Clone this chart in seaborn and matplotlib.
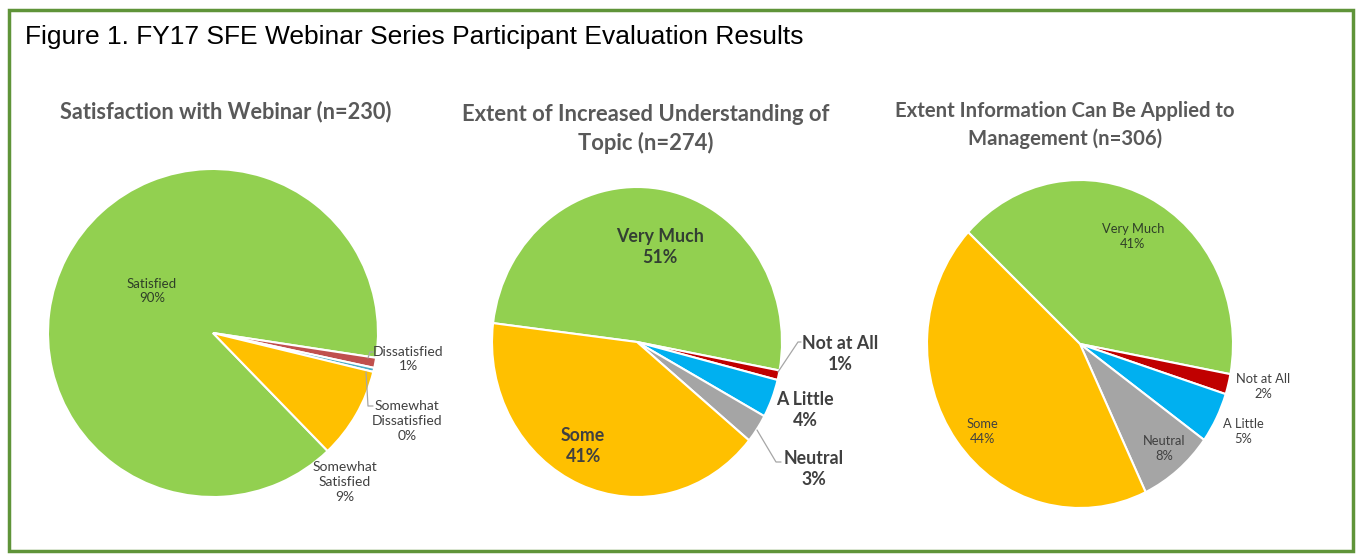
import numpy as np
import matplotlib
matplotlib.use('Agg')
import matplotlib.pyplot as plt
import seaborn as sns
from matplotlib.patches import Rectangle

W, H = 1357, 554

# data
sat_labels = ['Satisfied', 'Dissatisfied', 'Somewhat\nDissatisfied', 'Somewhat\nSatisfied']
sat_pct = [90, 1, 0.4, 9]
und_labels = ['Very Much', 'Not at All', 'A Little', 'Neutral', 'Some']
und_pct = [51, 1, 4, 3, 41]
app_labels = ['Very Much', 'Not at All', 'A Little', 'Neutral', 'Some']
app_pct = [41, 2, 5, 8, 44]
shown_sat = ['90%', '1%', '0%', '9%']
shown_und = ['51%', '1%', '4%', '3%', '41%']
shown_app = ['41%', '2%', '5%', '8%', '44%']

green, orange, red, blue, grey = '#92D050', '#FFC000', '#C00000', '#00B0F0', '#A5A5A5'
sat_cols = [green, '#C0504D', '#4BACC6', orange]
scale_cols = [green, red, blue, grey, orange]

sns.set_theme(style='white')
plt.rcParams['font.family'] = ['Lato', 'DejaVu Sans']
txt = '#404040'

fig = plt.figure(figsize=(W / 100, H / 100), dpi=100)
fig.patch.set_facecolor('white')


def pie_axes(cx, cy, rx, ry):
    ax = fig.add_axes([(cx - rx) / W, 1 - (cy + ry) / H, 2 * rx / W, 2 * ry / H])
    ax.set_xlim(-1, 1)
    ax.set_ylim(-1, 1)
    ax.set_aspect('auto')
    ax.axis('off')
    conv = lambda px, py: ((px - cx) / rx, (cy - py) / ry)
    return ax, conv


def draw(ax, vals, cols, start):
    ax.pie(vals, colors=cols, startangle=start, counterclock=False, radius=1,
           wedgeprops=dict(edgecolor='white', linewidth=1.5))
    ax.set_xlim(-1, 1)
    ax.set_ylim(-1, 1)
    ax.set_aspect('auto')


def label(ax, conv, px, py, s, size, bold=False, color=txt):
    x, y = conv(px, py)
    ax.text(x, y, s, ha='center', va='center', fontsize=size, color=color,
            fontweight='bold' if bold else 'normal', linespacing=1.3)


def leader(ax, conv, pts):
    xy = np.array([conv(*p) for p in pts])
    ax.plot(xy[:, 0], xy[:, 1], color='#a6a6a6', lw=0.9, clip_on=False)


# pie 1
ax1, c1 = pie_axes(213, 333, 165, 164)
draw(ax1, sat_pct, sat_cols, -46)
label(ax1, c1, 152, 291, sat_labels[0] + '\n' + shown_sat[0], 9.5, color='#2f3f28')
label(ax1, c1, 408, 359, sat_labels[1] + '\n' + shown_sat[1], 10)
label(ax1, c1, 407, 421, sat_labels[2] + '\n' + shown_sat[2], 10)
label(ax1, c1, 345, 482, sat_labels[3] + '\n' + shown_sat[3], 10)
leader(ax1, c1, [(368, 358), (370, 352), (373, 352)])
leader(ax1, c1, [(366, 372), (368, 406), (373, 406)])

# pie 2
ax2, c2 = pie_axes(637, 342, 145, 155)
draw(ax2, und_pct, scale_cols, 173)
label(ax2, c2, 660, 247, und_labels[0] + '\n' + shown_und[0], 12.8, True, '#333f33')
label(ax2, c2, 840, 354, und_labels[1] + '\n' + shown_und[1], 12.8, True)
label(ax2, c2, 805, 410, und_labels[2] + '\n' + shown_und[2], 12.8, True)
label(ax2, c2, 814, 469, und_labels[3] + '\n' + shown_und[3], 12.8, True)
label(ax2, c2, 583, 446, und_labels[4] + '\n' + shown_und[4], 12.8, True)
leader(ax2, c2, [(778, 372), (798, 342), (801, 342)])
leader(ax2, c2, [(757, 430), (776, 462), (781, 462)])

# pie 3
ax3, c3 = pie_axes(1080, 344, 153, 164)
draw(ax3, app_pct, scale_cols, 137)
label(ax3, c3, 1133, 236, app_labels[0] + '\n' + shown_app[0], 9.3, color='#2f3f28')
label(ax3, c3, 1263, 386, app_labels[1] + '\n' + shown_app[1], 9.3)
label(ax3, c3, 1243, 431, app_labels[2] + '\n' + shown_app[2], 9.3)
label(ax3, c3, 1164, 448, app_labels[3] + '\n' + shown_app[3], 9.3)
label(ax3, c3, 982, 431, app_labels[4] + '\n' + shown_app[4], 9.3)

# titles
ttl = '#595959'
fig.text(226 / W, 1 - 112 / H, 'Satisfaction with Webinar (n=230)', ha='center', va='center',
         fontsize=15.7, fontweight='bold', color=ttl)
fig.text(646 / W, 1 - 129 / H, 'Extent of Increased Understanding of\nTopic (n=274)', ha='center',
         va='center', fontsize=15.8, fontweight='bold', color=ttl, linespacing=1.4)
fig.text(1065 / W, 1 - 125 / H, 'Extent Information Can Be Applied to\nManagement (n=306)', ha='center',
         va='center', fontsize=14.6, fontweight='bold', color=ttl, linespacing=1.4)
fig.text(25 / W, 1 - 37 / H, 'Figure 1. FY17 SFE Webinar Series Participant Evaluation Results',
         ha='left', va='center', fontsize=19, color='black', family='Liberation Sans')

# green frame
fig.patches.append(Rectangle((9 / W, 1 - 551 / H), 1344 / W, 541 / H, transform=fig.transFigure,
                             fill=False, edgecolor='#5f9439', linewidth=2.5))

fig.savefig('out.png', dpi=100)
